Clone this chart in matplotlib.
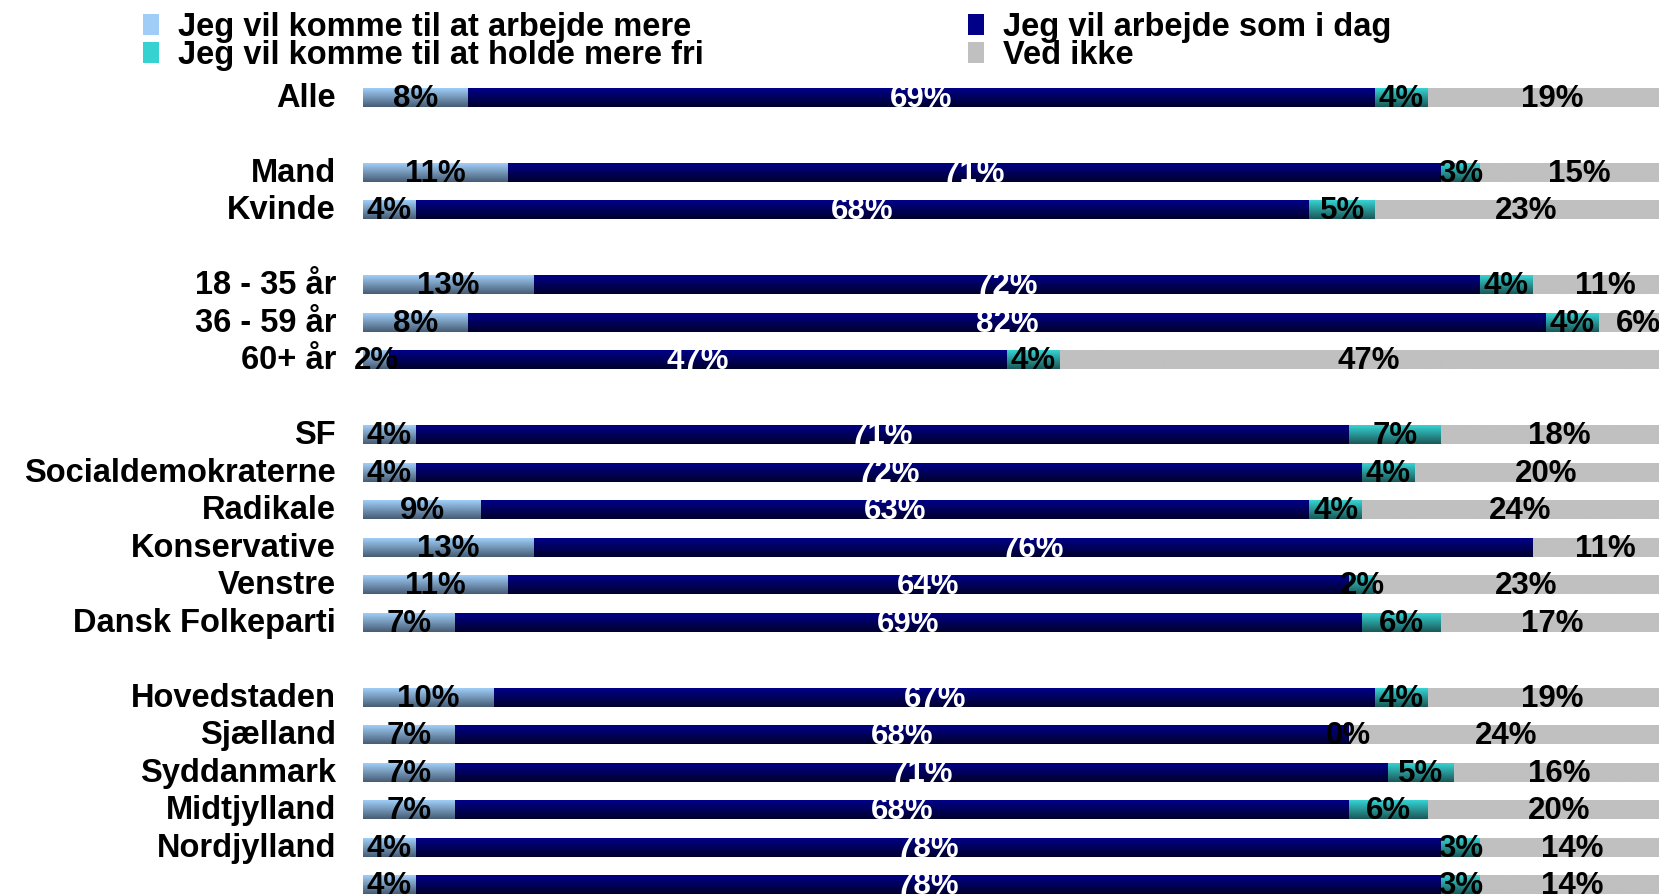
import numpy as np
import matplotlib
matplotlib.use('Agg')
import matplotlib.pyplot as plt
from matplotlib.patches import Patch
from matplotlib.colors import to_rgb

plt.rcParams['font.family'] = ['Liberation Sans', 'DejaVu Sans']
plt.rcParams['font.weight'] = 'bold'

# rækker (sidste række har ingen tekst i billedet)
categories = ['Alle', 'Mand', 'Kvinde', '18 - 35 år', '36 - 59 år', '60+ år',
              'SF', 'Socialdemokraterne', 'Radikale', 'Konservative', 'Venstre',
              'Dansk Folkeparti', 'Hovedstaden', 'Sjælland', 'Syddanmark',
              'Midtjylland', 'Nordjylland', '']
group = [0, 1, 1, 2, 2, 2, 3, 3, 3, 3, 3, 3, 4, 4, 4, 4, 4, 4]

more_work = [8, 11, 4, 13, 8, 2, 4, 4, 9, 13, 11, 7, 10, 7, 7, 7, 4, 4]
same = [69, 71, 68, 72, 82, 47, 71, 72, 63, 76, 64, 69, 67, 68, 71, 68, 78, 78]
more_free = [4, 3, 5, 4, 4, 4, 7, 4, 4, np.nan, 2, 6, 4, 0, 5, 6, 3, 3]
dont_know = [19, 15, 23, 11, 6, 47, 18, 20, 24, 11, 23, 17, 19, 24, 16, 20, 14, 14]

legend_labels = ['Jeg vil komme til at arbejde mere', 'Jeg vil komme til at holde mere fri',
                 'Jeg vil arbejde som i dag', 'Ved ikke']

# farver: top -> bund gradient
grads = [('#9fcdf7', '#475d75'), ('#000088', '#00002e'),
         ('#36d2d2', '#1b5858'), ('#c0c0c0', '#c0c0c0')]
txtcol = ['black', 'white', 'black', 'black']
fs = 22.5
fs_lab = 23.5

fig = plt.figure(figsize=(16.59, 8.94), dpi=100)
ax = fig.add_axes([363 / 1659, 0, 1 - 363 / 1659, 1])

n = len(categories)
y = np.arange(n) + np.array(group)
h = 0.5
left = np.zeros(n)
series = [more_work, same, more_free, dont_know]

for vals, (c1, c2), tc in zip(series, grads, txtcol):
    vals = np.array(vals, dtype=float)
    w = np.nan_to_num(vals)
    bars = ax.barh(y, w, left=left, height=h, color=c2, linewidth=0)
    r1, r2 = np.array(to_rgb(c1)), np.array(to_rgb(c2))
    t = np.linspace(0, 1, 40)[:, None, None]
    img = r1 + t * (r2 - r1)
    for b in bars:
        if b.get_width() <= 0:
            continue
        x0 = b.get_x()
        ax.imshow(img, extent=(x0, x0 + b.get_width(), b.get_y() + h, b.get_y()),
                  origin='upper', aspect='auto', interpolation='bilinear', zorder=2)
    for yi, l, v in zip(y, left, vals):
        if np.isnan(v):
            continue
        ax.text(l + v / 2, yi + h / 2, f'{v:.0f}%', ha='center', va='baseline',
                color=tc, fontsize=fs, fontweight='bold', zorder=5)
    left += w

for yi, cat in zip(y, categories):
    ax.text(-2.05, yi + h / 2, cat, ha='right', va='baseline', fontsize=fs_lab,
            fontweight='bold', clip_on=False)

ax.set_xlim(0, 98.6)
ax.set_ylim(21.25, -2.6)
ax.axis('off')

mid = [grads[0][0], grads[2][0], grads[1][0], grads[3][0]]
handles = [Patch(facecolor=c, edgecolor='none') for c in mid]
kw = dict(loc='upper left', frameon=False, borderpad=0, borderaxespad=0,
          handlelength=0.48, handleheight=0.6, handletextpad=0.6,
          labelspacing=-0.1, prop=dict(weight='bold', size=fs_lab))
fig.legend(handles[:2], [legend_labels[0], legend_labels[1]],
           bbox_to_anchor=(143 / 1659, 1 - 12 / 894), **kw)
fig.legend(handles[2:], [legend_labels[2], legend_labels[3]],
           bbox_to_anchor=(968 / 1659, 1 - 12 / 894), **kw)

fig.savefig('out.png', dpi=100)
